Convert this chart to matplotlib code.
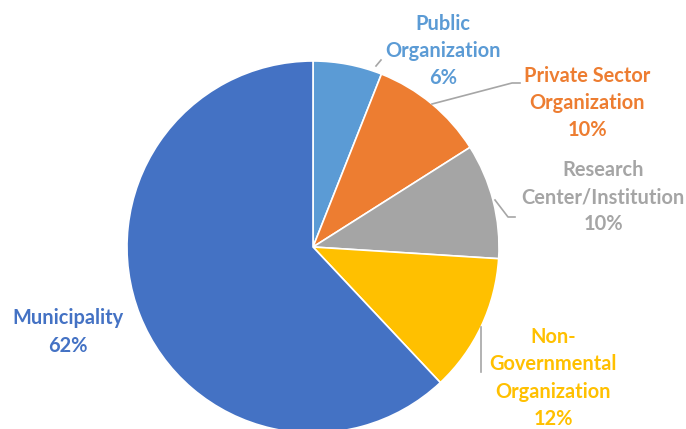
import matplotlib
matplotlib.use("Agg")
import matplotlib.pyplot as plt

categories = ["Public\nOrganization", "Private Sector\nOrganization", "Research\nCenter/Institution",
              "Non-\nGovernmental\nOrganization", "Municipality"]
values = [6, 10, 10, 12, 62]
colors = ["#5B9BD5", "#ED7D31", "#A5A5A5", "#FFC000", "#4472C4"]

W, H = 686, 429
fig = plt.figure(figsize=(W / 100, H / 100), dpi=100)
ax = fig.add_axes([0, 0, 1, 1])

def Y(yp):
    return H - yp

cx, cy, r = 313, 247, 186
ax.pie(values, colors=colors, startangle=90, counterclock=False, center=(cx, Y(cy)), radius=r,
       wedgeprops=dict(edgecolor="white", linewidth=1.2), frame=True)
ax.set_xlim(0, W)
ax.set_ylim(0, H)
ax.set_aspect("equal")
ax.axis("off")

label_pos = [(443, 51), (587, 103), (603, 197), (553, 378), (68, 332)]
total = sum(values)
for cat, v, c, (x, y) in zip(categories, values, colors, label_pos):
    ax.text(x, Y(y), f"{cat}\n{round(100 * v / total)}%", color=c, ha="center", va="center",
            fontsize=14.4, fontweight="bold", family="Lato", linespacing=1.45)

lc = "#A6A6A6"
leaders = [
    [(376, 66), (381, 60)],
    [(432, 104), (512, 83), (520, 83)],
    [(495, 200), (508, 217), (515, 217)],
    [(481, 327), (481, 372)],
]
for pts in leaders:
    ax.plot([p[0] for p in pts], [Y(p[1]) for p in pts], color=lc, lw=1.2)

fig.savefig("out.png", dpi=100)
